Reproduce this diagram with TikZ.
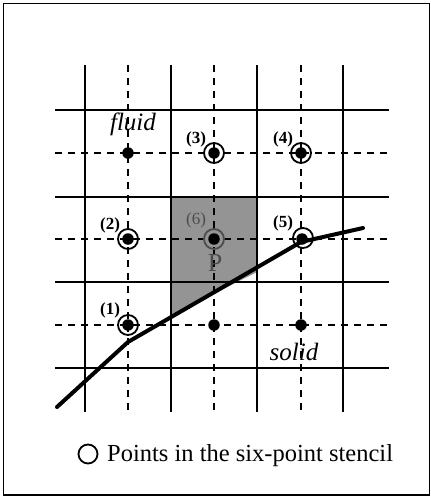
\documentclass[tikz,border=0pt]{standalone}
\usepackage{fontspec}
\setmainfont{Liberation Serif}
\begin{document}
\begin{tikzpicture}[x=1pt,y=-1pt,
  solidline/.style={line width=1.6pt},
  dashline/.style={line width=1.6pt, dash pattern=on 6.5pt off 6.5pt},
  wall/.style={line width=4pt, line cap=round, line join=round},
  dotpt/.style={circle, fill=black, inner sep=0pt, minimum size=11.5pt},
  ringpt/.style={circle, draw=black, line width=1.8pt, inner sep=0pt, minimum size=20pt},
  lbl/.style={font=\fontsize{17}{17}\selectfont\bfseries, inner sep=0pt},
  region/.style={font=\fontsize{25}{25}\selectfont\itshape, inner sep=0pt}
]
\useasboundingbox (0,0) rectangle (431,498);
\draw[line width=1.8pt] (3.5,3.5) rectangle (429.5,495);
% shaded cell above the wall
\fill[black!42] (172,198) -- (257,198) -- (257,272) -- (172,315) -- cycle;
% solid grid
\foreach \x in {85,171,257,343} \draw[solidline] (\x,65) -- (\x,412);
\foreach \y in {110,197,282,368} \draw[solidline] (55,\y) -- (389,\y);
% dashed grid
\foreach \x in {128,214,301} \draw[dashline] (\x,65) -- (\x,412);
\foreach \y in {153,239,325} \draw[dashline] (55,\y) -- (389,\y);
% wall
\coordinate (w0) at (57,407);
\coordinate (w1) at (128,342);
\coordinate (w2) at (301,242);
\coordinate (w3) at (363,228);
\draw[wall] (w0) -- (w1) -- (w2) -- (w3);
% points
\node[dotpt] (d7) at (128,153) {};
\node[dotpt] (d3) at (214,153) {};
\node[dotpt] (d4) at (301,153) {};
\node[dotpt] (d2) at (128,239) {};
\node[dotpt] (d6) at (214,239) {};
\node[dotpt] (d5) at (302,239) {};
\node[dotpt] (d1) at (128,325) {};
\node[dotpt] (d8) at (214,325) {};
\node[dotpt] (d9) at (301,325) {};
\node[ringpt] (r3) at (214,153) {};
\node[ringpt] (r4) at (301,153) {};
\node[ringpt] (r2) at (128,239) {};
\node[ringpt, draw=black!70] (r6) at (214,239) {};
\node[ringpt] (r5) at (303,238) {};
\node[ringpt] (r1) at (128,325) {};
% labels
\node[lbl] (l3) at (196,139) {(3)};
\node[lbl] (l4) at (283,139) {(4)};
\node[lbl] (l2) at (110,225) {(2)};
\node[lbl, text=black!70, font=\fontsize{17}{17}\selectfont] (l6) at (196,220) {(6)};
\node[lbl] (l5) at (283,223) {(5)};
\node[lbl] (l1) at (110,310) {(1)};
\node[text=black!70, font=\fontsize{26}{26}\selectfont, inner sep=0pt] (P) at (215,263) {P};
\node[region] (fluid) at (133,124) {fluid};
\node[region] (solid) at (294,352) {solid};
% legend
\node[ringpt, minimum size=19pt] (leg) at (88,454) {};
\node[anchor=west, font=\fontsize{24.5}{24.5}\selectfont, inner sep=0pt] (legtext) at (107,456) {Points in the six-point stencil};
\end{tikzpicture}
\end{document}
